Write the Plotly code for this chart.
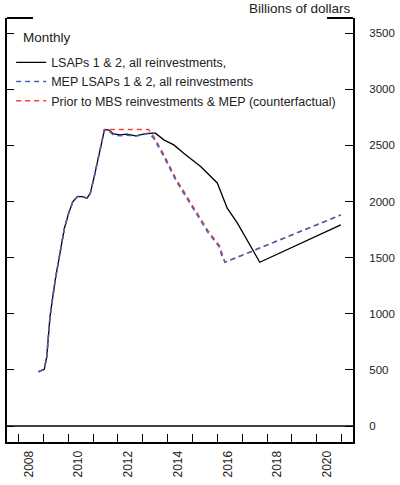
import plotly.graph_objects as go

# Monthly SOMA holdings paths, billions of dollars (decimal year, value)
lsap_t = [2008.81, 2009.04, 2009.14, 2009.27, 2009.48, 2009.68, 2009.85, 2010.02, 2010.19,
          2010.38, 2010.56, 2010.76, 2010.89, 2011.05, 2011.29, 2011.46, 2011.63, 2011.83,
          2012.10, 2012.37, 2012.71, 2013.04, 2013.38, 2013.51, 2013.85, 2014.25, 2014.65,
          2015.33, 2016.00, 2016.40, 2016.81, 2017.34, 2017.71, 2020.97]
lsap_v = [484, 505, 618, 974, 1301, 1569, 1762, 1896, 1999,
          2044, 2044, 2029, 2074, 2222, 2460, 2638, 2638, 2602,
          2594, 2600, 2585, 2600, 2608, 2608, 2549, 2504, 2430,
          2311, 2165, 1940, 1807, 1598, 1459, 1791]

mep_t = [2008.81, 2009.04, 2009.14, 2009.27, 2009.48, 2009.68, 2009.85, 2010.02, 2010.19,
         2010.38, 2010.56, 2010.76, 2010.89, 2011.05, 2011.29, 2011.46, 2011.63, 2011.83,
         2012.10, 2012.40, 2012.71, 2013.04, 2013.24, 2013.44, 2013.85, 2014.32, 2015.06,
         2015.60, 2016.07, 2016.17, 2016.31, 2020.97]
mep_v = [484, 505, 618, 974, 1301, 1569, 1762, 1896, 1999,
         2044, 2044, 2029, 2074, 2222, 2460, 2638, 2630, 2590,
         2585, 2590, 2580, 2595, 2610, 2564, 2400, 2192, 1925,
         1732, 1598, 1524, 1459, 1880]

cf_t = [2008.81, 2009.04, 2009.14, 2009.27, 2009.48, 2009.68, 2009.85, 2010.02, 2010.19,
        2010.38, 2010.56, 2010.76, 2010.89, 2011.05, 2011.29, 2011.46, 2013.24, 2013.46,
        2013.87, 2014.34, 2015.08, 2015.62, 2016.09, 2016.19, 2016.31, 2020.97]
cf_v = [484, 505, 618, 974, 1301, 1569, 1762, 1896, 1999,
        2044, 2044, 2029, 2074, 2222, 2460, 2640, 2640, 2572,
        2410, 2202, 1935, 1742, 1606, 1530, 1459, 1880]

year_ticks = list(range(2008, 2022))
year_labels = [str(y) for y in range(2008, 2021, 2)]
y_ticks = [0, 500, 1000, 1500, 2000, 2500, 3000, 3500]

FONT = "Liberation Sans, Arial, sans-serif"
TEXT = "#222"
X_RANGE = [2007.54, 2021.46]
Y_RANGE = [-142, 3634]

fig = go.Figure()
fig.add_trace(go.Scatter(x=lsap_t, y=lsap_v, mode="lines",
                         name="LSAPs 1 & 2, all reinvestments,",
                         line=dict(color="black", width=1.3), legendrank=1))
fig.add_trace(go.Scatter(x=cf_t, y=cf_v, mode="lines",
                         name="Prior to MBS reinvestments & MEP (counterfactual)",
                         line=dict(color="#ff3b3b", width=1.5, dash="5px,4px"),
                         legendrank=3))
fig.add_trace(go.Scatter(x=mep_t, y=mep_v, mode="lines",
                         name="MEP LSAPs 1 & 2, all reinvestments",
                         line=dict(color="#4a5fc0", width=1.5, dash="5px,4px"),
                         legendrank=2))
# invisible trace carrying the left-hand tick marks
fig.add_trace(go.Scatter(x=[X_RANGE[0]], y=[0], yaxis="y2", mode="markers",
                         marker=dict(opacity=0), showlegend=False, hoverinfo="skip"))

fig.update_layout(
    width=400, height=485,
    margin=dict(l=7, r=47, t=18, b=43, autoexpand=False),
    paper_bgcolor="white", plot_bgcolor="white",
    font=dict(family=FONT, size=12, color=TEXT),
    xaxis=dict(range=X_RANGE, showgrid=False, zeroline=False, automargin=False,
               showline=True, linecolor="black", linewidth=2, mirror=False,
               tickvals=[int(s) + 0.42 for s in year_labels], ticktext=year_labels,
               ticks="", tickangle=-90, tickfont=dict(size=12), ticklabelstandoff=2,
               minor=dict(tickvals=year_ticks, ticks="inside", ticklen=8,
                          tickcolor="black", tickwidth=1.2)),
    yaxis=dict(range=Y_RANGE, side="right", showgrid=False, zeroline=False,
               automargin=False, showline=True, linecolor="black", linewidth=2,
               tickvals=y_ticks, ticks="inside", ticklen=8, tickcolor="black",
               tickwidth=1.2, tickfont=dict(size=11.5), ticklabelstandoff=12),
    yaxis2=dict(range=Y_RANGE, overlaying="y", side="left", showgrid=False,
                zeroline=False, automargin=False, showline=True, linecolor="black",
                linewidth=2, tickvals=y_ticks, ticks="inside", ticklen=7,
                tickcolor="black", tickwidth=1.2, showticklabels=False),
    legend=dict(x=0.012, y=0.93, xanchor="left", yanchor="top",
                bgcolor="rgba(0,0,0,0)", font=dict(size=12.5, color=TEXT),
                tracegroupgap=0, itemwidth=30),
    showlegend=True,
)

# zero line and partial top border
fig.add_shape(type="line", xref="paper", yref="y", x0=0, x1=1, y0=0, y1=0,
              line=dict(color="black", width=1.5))
fig.add_shape(type="line", xref="paper", yref="paper", x0=0, x1=0.075, y0=1, y1=1,
              line=dict(color="black", width=2))
fig.add_shape(type="line", xref="paper", yref="paper", x0=0.925, x1=1, y0=1, y1=1,
              line=dict(color="black", width=2))

fig.add_annotation(text="Monthly", xref="paper", yref="paper", x=0.04, y=0.953,
                   xanchor="left", yanchor="middle", showarrow=False,
                   font=dict(size=13.5, color=TEXT))
fig.add_annotation(text="Billions of dollars", xref="paper", yref="paper", x=1.0,
                   y=1.0, xanchor="right", yanchor="bottom", yshift=0, showarrow=False,
                   font=dict(size=13.5, color=TEXT))

fig.write_html("out.html")
